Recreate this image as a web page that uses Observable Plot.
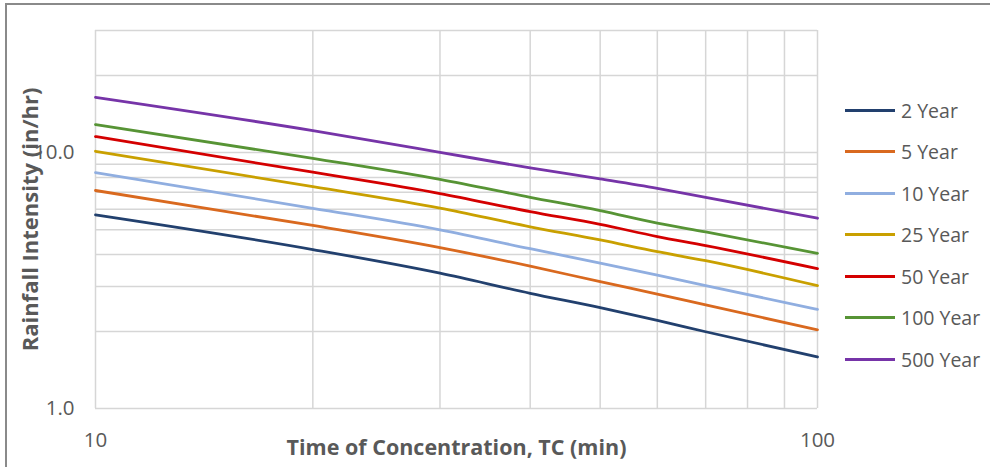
<!DOCTYPE html>
<html>
<head>
<meta charset="utf-8">
<script src="https://cdn.jsdelivr.net/npm/d3@7"></script>
<script src="https://cdn.jsdelivr.net/npm/@observablehq/plot@0.6"></script>
<style>
  html, body { margin: 0; padding: 0; background: #fff; overflow: hidden; }
  #wrap { position: relative; width: 990px; height: 467px; }
  #frame { position: absolute; left: 5px; top: 3px; width: 1010px; height: 500px; border: 2px solid #8a8a8a; pointer-events: none; }
  #legend { position: absolute; left: 0; top: 0; font-family: "Open Sans", sans-serif; font-size: 19.5px; color: #595959; }
  .item { position: absolute; left: 845px; height: 24px; display: flex; align-items: center; white-space: nowrap; }
  .swatch { width: 50px; height: 3px; margin-right: 6px; }
</style>
</head>
<body>
<div id="wrap"><div id="chart"></div><div id="legend"></div><div id="frame"></div></div>
<script>
const times = [10, 20, 30, 40, 50, 60, 70, 100];
const seriesNames = ["2 Year", "5 Year", "10 Year", "25 Year", "50 Year", "100 Year", "500 Year"];
const colors = ["#22406e", "#d9691f", "#90aee0", "#c9a000", "#d40000", "#579435", "#7634a8"];
const y2   = [5.71, 4.18, 3.38, 2.82, 2.48, 2.21, 1.995, 1.59];
const y5   = [7.11, 5.19, 4.25, 3.60, 3.13, 2.80, 2.54, 2.03];
const y10  = [8.35, 6.06, 4.99, 4.21, 3.70, 3.32, 3.02, 2.44];
const y25  = [10.12, 7.36, 6.07, 5.13, 4.56, 4.10, 3.78, 3.02];
const y50  = [11.55, 8.38, 6.92, 5.88, 5.24, 4.70, 4.33, 3.52];
const y100 = [12.87, 9.50, 7.86, 6.69, 5.93, 5.30, 4.90, 4.04];
const y500 = [16.44, 12.19, 10.03, 8.71, 7.89, 7.25, 6.69, 5.54];
const xTicks = [10, 100];
const yTicks = [1, 10];
const xGrid = [10, 20, 30, 40, 50, 60, 70, 80, 90, 100];
const yGrid = [1, 2, 3, 4, 5, 6, 7, 8, 9, 10, 20, 30];
const xTitle = "Time of Concentration, TC (min)";
const yTitle = "Rainfall Intensity (in/hr)";

const allSeries = [y2, y5, y10, y25, y50, y100, y500];
const rows = [];
allSeries.forEach((vals, i) => vals.forEach((v, j) => rows.push({series: seriesNames[i], t: times[j], v})));

const chart = Plot.plot({
  width: 990,
  height: 467,
  marginLeft: 95,
  marginRight: 173,
  marginTop: 30,
  marginBottom: 59,
  style: {fontFamily: "'Open Sans', sans-serif", fontSize: "20px", color: "#595959", background: "transparent"},
  x: {type: "log", domain: [10, 100]},
  y: {type: "log", domain: [1, 30]},
  color: {domain: seriesNames, range: colors},
  marks: [
    Plot.ruleX(xGrid, {stroke: "#d6d6d6", strokeWidth: 1.5}),
    Plot.ruleY(yGrid, {stroke: "#d6d6d6", strokeWidth: 1.5}),
    Plot.axisX({ticks: xTicks, tickSize: 0, tickPadding: 24, tickFormat: d3.format("d"), label: null, fontSize: 20.5}),
    Plot.axisY({ticks: yTicks, tickSize: 0, tickPadding: 21, tickFormat: d3.format(".1f"), label: null, fontSize: 20.5}),
    Plot.line(rows, {x: "t", y: "v", stroke: "series", strokeWidth: 2.8, curve: "monotone-x"}),
    Plot.text([xTitle], {frameAnchor: "bottom", dy: 46, fontSize: 21.5, fontWeight: "bold", fill: "#595959"}),
    Plot.text([yTitle], {frameAnchor: "left", dx: -65, rotate: -90, textAnchor: "middle", fontSize: 22, fontWeight: "bold", fill: "#595959"})
  ]
});
document.getElementById("chart").appendChild(chart);

const legend = document.getElementById("legend");
seriesNames.forEach((name, i) => {
  const item = document.createElement("div");
  item.className = "item";
  item.style.top = (110 - 12 + i * 41.5) + "px";
  const sw = document.createElement("span");
  sw.className = "swatch";
  sw.style.background = colors[i];
  const label = document.createElement("span");
  label.textContent = name;
  item.appendChild(sw);
  item.appendChild(label);
  legend.appendChild(item);
});
</script>
</body>
</html>
